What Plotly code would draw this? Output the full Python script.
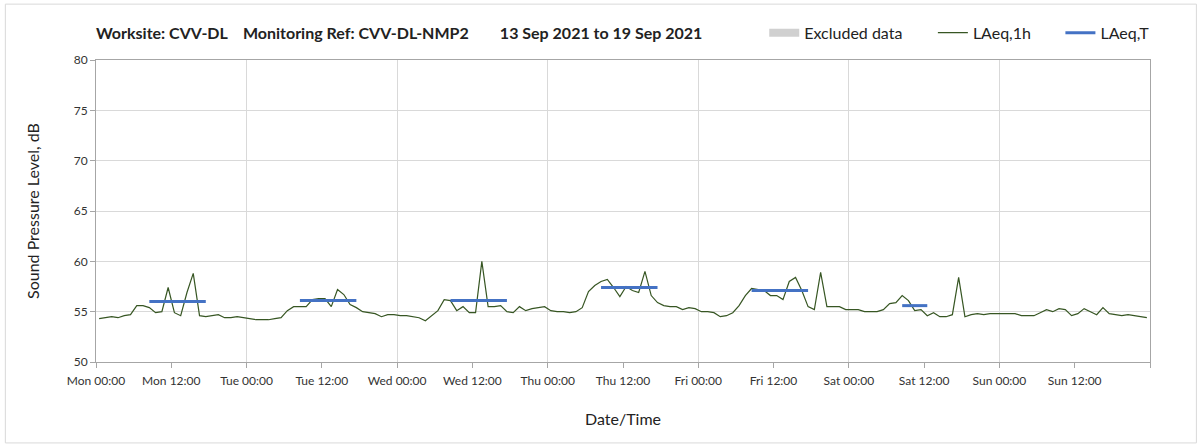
import plotly.graph_objects as go
import pandas as pd

# hourly LAeq,1h values, Mon 13 Sep 2021 00:00 onwards (168 hours)
laeq_1h = [
    54.3, 54.4, 54.5, 54.4, 54.6, 54.7, 55.6, 55.6, 55.4, 54.9, 55.0, 57.4,
    54.9, 54.6, 56.9, 58.8, 54.6, 54.5, 54.6, 54.7, 54.4, 54.4, 54.5, 54.4,
    54.3, 54.2, 54.2, 54.2, 54.3, 54.4, 55.1, 55.5, 55.5, 55.5, 56.2, 56.3,
    56.3, 55.5, 57.2, 56.7, 55.7, 55.4, 55.0, 54.9, 54.8, 54.5, 54.7, 54.7,
    54.6, 54.6, 54.5, 54.4, 54.1, 54.6, 55.1, 56.2, 56.1, 55.1, 55.5, 54.9,
    54.9, 60.0, 55.5, 55.5, 55.6, 55.0, 54.9, 55.5, 55.1, 55.3, 55.4, 55.5,
    55.1, 55.0, 55.0, 54.9, 55.0, 55.4, 57.0, 57.6, 58.0, 58.2, 57.4, 56.5,
    57.5, 57.1, 56.9, 59.0, 56.6, 55.9, 55.6, 55.5, 55.5, 55.2, 55.4, 55.3,
    55.0, 55.0, 54.9, 54.5, 54.6, 54.9, 55.6, 56.6, 57.3, 57.2, 57.1, 56.6,
    56.6, 56.2, 58.0, 58.4, 57.1, 55.5, 55.2, 58.9, 55.5, 55.5, 55.5, 55.2,
    55.2, 55.2, 55.0, 55.0, 55.0, 55.2, 55.8, 55.9, 56.6, 56.1, 55.1, 55.2,
    54.6, 54.9, 54.5, 54.5, 54.7, 58.4, 54.5, 54.7, 54.8, 54.7, 54.8, 54.8,
    54.8, 54.8, 54.8, 54.6, 54.6, 54.6, 54.9, 55.2, 55.0, 55.3, 55.2, 54.6,
    54.8, 55.3, 55.0, 54.7, 55.4, 54.8, 54.7, 54.6, 54.7, 54.6, 54.5, 54.4,
]

# LAeq,T over each daytime period (start / end hour index)
period_start = [8, 32, 56, 80, 104, 128]
period_end = [17, 41, 65, 89, 113, 132]
laeq_t = [56.0, 56.1, 56.1, 57.4, 57.1, 55.6]

start = pd.Timestamp("2021-09-13 00:00")
hours = [start + pd.Timedelta(minutes=30 + 60 * i) for i in range(len(laeq_1h))]

tx, ty = [], []
for s, e, v in zip(period_start, period_end, laeq_t):
    tx += [hours[s], hours[e], None]
    ty += [v, v, None]

x0 = start
x1 = start + pd.Timedelta(days=7)

# tick every 12 h, last one (end of week) without a label
tickvals = [start + pd.Timedelta(hours=12 * i) for i in range(15)]
ticktext = [t.strftime("%a %H:%M") for t in tickvals[:-1]] + [""]

font = "Lato, 'Open Sans', sans-serif"

fig = go.Figure()
fig.add_trace(go.Scatter(x=[None], y=[None], mode="lines", name="Excluded data",
                         line=dict(color="#d0d0d0", width=8), legend="legend"))
fig.add_trace(go.Scatter(x=hours, y=laeq_1h, mode="lines", name="LAeq,1h",
                         line=dict(color="#375623", width=1.2), legend="legend2"))
fig.add_trace(go.Scatter(x=tx, y=ty, mode="lines", name="LAeq,T",
                         line=dict(color="#4472C4", width=3), legend="legend3"))
# dummy trace on overlay axis for the daily gridlines
fig.add_trace(go.Scatter(x=[start], y=[None], xaxis="x2", showlegend=False,
                         hoverinfo="skip"))

leg = dict(orientation="h", yanchor="middle", y=1.09, xanchor="left",
           font=dict(family=font, size=16, color="#222"), bgcolor="rgba(0,0,0,0)")
fig.update_layout(
    width=1203, height=447,
    margin=dict(l=96, r=53, t=60, b=85),
    paper_bgcolor="white", plot_bgcolor="white",
    font=dict(family=font, size=12, color="#404040"),
    legend=dict(leg, x=0.634),
    legend2=dict(leg, x=0.794),
    legend3=dict(leg, x=0.915),
    xaxis=dict(
        range=[x0, x1], type="date", tickmode="array",
        tickvals=tickvals, ticktext=ticktext, showgrid=False,
        ticks="outside", ticklen=5, tickcolor="#a6a6a6", ticklabelstandoff=3,
        showline=True, linecolor="#a6a6a6", mirror=True,
        title=dict(text="Date/Time", font=dict(size=16, color="#222"), standoff=26),
        tickfont=dict(size=12, color="#333"),
    ),
    xaxis2=dict(
        range=[x0, x1], type="date", overlaying="x", matches="x",
        dtick=24 * 3600 * 1000, tick0=x0, showgrid=True, gridcolor="#d9d9d9",
        showticklabels=False, ticks="",
    ),
    yaxis=dict(
        range=[50, 80], dtick=5, showgrid=True, gridcolor="#d9d9d9",
        ticks="outside", ticklen=5, tickcolor="#a6a6a6",
        showline=True, linecolor="#a6a6a6", mirror=True, zeroline=False,
        title=dict(text="Sound Pressure Level, dB", font=dict(size=16, color="#222"), standoff=30),
        tickfont=dict(size=12, color="#333"),
    ),
)

fig.add_annotation(
    text="<b>Worksite: CVV-DL\u00a0\u00a0\u00a0\u00a0Monitoring Ref: CVV-DL-NMP2"
         "\u00a0\u00a0\u00a0\u00a0\u00a0\u00a0\u00a0\u00a013 Sep 2021 to 19 Sep 2021</b>",
    xref="paper", yref="paper", x=-0.002, y=1.09, xanchor="left", yanchor="middle",
    showarrow=False, font=dict(family=font, size=16, color="#222"),
)

# chart area border
fig.add_shape(type="rect", xref="paper", yref="paper",
              x0=-0.086, x1=1.044, y0=-0.268, y1=1.185,
              line=dict(color="#d9d9d9", width=1), layer="below")

fig.write_html("out.html", config={"displayModeBar": False},
               post_script="document.body.style.margin='0';")
